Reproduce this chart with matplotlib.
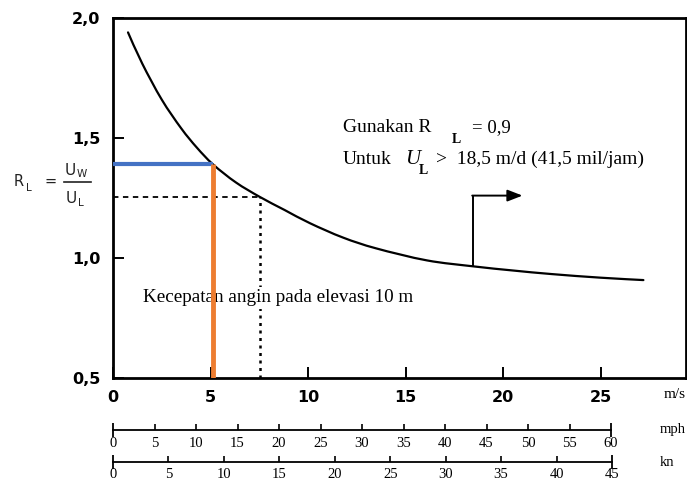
import matplotlib
matplotlib.use("Agg")
import matplotlib.pyplot as plt
from matplotlib.ticker import FixedLocator
from matplotlib.path import Path
from matplotlib.patches import PathPatch

# Wind-speed ratio curve R_L = U_W / U_L against wind speed over land (m/s)
wind_ms = [0.77, 1.5, 2.5, 3.5, 4.3, 5.13, 6.3, 7.54, 8.8, 10.1, 11.8, 13.5,
           16.1, 18.5, 20.5, 22.5, 25.0, 27.2]
ratio_rl = [1.94, 1.81, 1.66, 1.54, 1.46, 1.39, 1.315, 1.254, 1.20, 1.145,
            1.085, 1.04, 0.99, 0.965, 0.948, 0.933, 0.918, 0.908]

# Main axis ticks
x_ticks = [0, 5, 10, 15, 20, 25]
y_ticks = [0.5, 1.0, 1.5, 2.0]
y_tick_labels = ["0,5", "1,0", "1,5", "2,0"]

# Highlighted reading (blue/orange) and dashed reading
read_speed, read_ratio = 5.13, 1.39
dash_speed, dash_ratio = 7.54, 1.254

# Threshold note
limit_speed, limit_ratio_from, limit_ratio_to, arrow_end = 18.46, 0.97, 1.26, 21.0

# Secondary unit scales
mph_ticks = [0, 5, 10, 15, 20, 25, 30, 35, 40, 45, 50, 55, 60]
kn_ticks = [0, 5, 10, 15, 20, 25, 30, 35, 40, 45]

W, H = 687, 483
fig = plt.figure(figsize=(W / 100, H / 100), dpi=100)
fig.patch.set_facecolor("white")


def fx(px):
    return px / W


def fy(py):
    return 1 - py / H


ax = fig.add_axes([fx(113), fy(378), fx(686) - fx(113), fy(18) - fy(378)])
ax.set_xlim(0, (686 - 113) / 19.5)
ax.set_ylim(0.5, 2.0)
for s in ax.spines.values():
    s.set_linewidth(2.0)
    s.set_color("black")


def smooth_path(xs, ys):
    """Catmull-Rom curve through the points, as cubic Bezier segments."""
    pts = list(zip(xs, ys))
    verts = [pts[0]]
    codes = [Path.MOVETO]
    n = len(pts)
    for i in range(n - 1):
        p0 = pts[i - 1] if i > 0 else pts[i]
        p1, p2 = pts[i], pts[i + 1]
        p3 = pts[i + 2] if i + 2 < n else pts[i + 1]
        c1 = (p1[0] + (p2[0] - p0[0]) / 6, p1[1] + (p2[1] - p0[1]) / 6)
        c2 = (p2[0] - (p3[0] - p1[0]) / 6, p2[1] - (p3[1] - p1[1]) / 6)
        verts += [c1, c2, p2]
        codes += [Path.CURVE4] * 3
    return Path(verts, codes)


ax.add_patch(PathPatch(smooth_path(wind_ms, ratio_rl), facecolor="none",
                       edgecolor="black", lw=1.6, zorder=3, capstyle="round"))

# Dashed reading lines
ax.plot([0, dash_speed], [dash_ratio, dash_ratio], color="black", lw=1.3,
        ls=(0, (3, 2.5)), zorder=2)
ax.plot([dash_speed, dash_speed], [0.5, dash_ratio], color="black", lw=1.8,
        ls=(0, (1.2, 1.8)), zorder=2)

# Highlighted reading
ax.plot([0, read_speed], [read_ratio, read_ratio], color="#4472C4", lw=3,
        zorder=5, solid_capstyle="butt")
ax.plot([read_speed, read_speed], [0.5, read_ratio], color="#ED7D31", lw=3.5,
        zorder=6, solid_capstyle="butt")

# Threshold arrow
ax.plot([limit_speed, limit_speed], [limit_ratio_from, limit_ratio_to],
        color="black", lw=1.4, zorder=3)
ax.annotate("", xy=(arrow_end, limit_ratio_to), xytext=(limit_speed - 0.04, limit_ratio_to),
            arrowprops=dict(arrowstyle="-|>,head_length=0.9,head_width=0.35",
                            color="black", lw=1.4, shrinkA=0, shrinkB=0), zorder=3)

serif = "Liberation Serif"
tf = fig.transFigure
ax.text(fx(343), fy(132), "Gunakan R", fontsize=14, family=serif, va="baseline", transform=tf)
ax.text(fx(452), fy(143), "L", fontsize=10, family=serif, va="baseline", weight="bold", transform=tf)
ax.text(fx(472), fy(132), "= 0,9", fontsize=13.5, family=serif, va="baseline", transform=tf)
ax.text(fx(343), fy(164), "Untuk", fontsize=14, family=serif, va="baseline", transform=tf)
ax.text(fx(405), fy(164), "U", fontsize=15, family=serif, va="baseline", style="italic", transform=tf)
ax.text(fx(419), fy(174), "L", fontsize=10, family=serif, va="baseline", weight="bold", transform=tf)
ax.text(fx(436), fy(164), ">  18,5 m/d (41,5 mil/jam)", fontsize=14, family=serif,
        va="baseline", transform=tf)

ax.text(fx(143), fy(298), "Kecepatan angin pada elevasi 10 m", fontsize=13.8,
        family=serif, va="center", ha="left", zorder=4, transform=tf,
        bbox=dict(facecolor="white", edgecolor="none", pad=1.5))

# Ticks and labels on the main axes
ax.xaxis.set_major_locator(FixedLocator(x_ticks))
ax.yaxis.set_major_locator(FixedLocator(y_ticks))
ax.set_yticklabels(y_tick_labels)
ax.tick_params(axis="both", direction="in", length=8, width=1.4, colors="black",
               labelsize=11.5, pad=9)
for lab in ax.get_xticklabels() + ax.get_yticklabels():
    lab.set_fontweight("bold")
    lab.set_family("DejaVu Sans")

fig.text(fx(664), fy(394), "m/s", fontsize=11, family=serif, va="center")

# Ratio label on the left
sans = "DejaVu Sans"
ink = "#222222"
fig.text(fx(14), fy(186), "R", fontsize=10.5, family=sans, va="baseline", color=ink)
fig.text(fx(26), fy(191), "L", fontsize=7.5, family=sans, va="baseline", color=ink)
fig.text(fx(45), fy(186), "=", fontsize=10.5, family=sans, va="baseline", color=ink)
fig.text(fx(65), fy(175), "U", fontsize=11, family=sans, va="baseline", color=ink)
fig.text(fx(77), fy(177), "W", fontsize=7.5, family=sans, va="baseline", color=ink)
fig.text(fx(66), fy(203), "U", fontsize=11, family=sans, va="baseline", color=ink)
fig.text(fx(78), fy(206), "L", fontsize=7.5, family=sans, va="baseline", color=ink)
fig.add_artist(plt.Line2D([fx(64), fx(91)], [fy(182), fy(182)], color=ink, lw=1.2))


# Secondary unit scales below the chart
def unit_scale(y_px, right_px, ticks, name, pad):
    sax = fig.add_axes([fx(113), fy(y_px), fx(right_px) - fx(113), 0.0005])
    sax.set_xlim(ticks[0], ticks[-1])
    sax.set_ylim(0, 1)
    for k in ("top", "left", "right"):
        sax.spines[k].set_visible(False)
    sax.spines["bottom"].set_linewidth(1.3)
    sax.set_yticks([])
    sax.xaxis.set_major_locator(FixedLocator(ticks[1:-1]))
    sax.xaxis.set_minor_locator(FixedLocator([ticks[0], ticks[-1]]))
    sax.tick_params(axis="x", which="major", direction="in", length=4, width=1.2,
                    labelsize=10.5, pad=pad)
    sax.tick_params(axis="x", which="minor", direction="inout", length=10, width=1.3,
                    labelsize=10.5, pad=pad - 5)
    sax.set_xticklabels([str(t) for t in ticks[1:-1]], family=serif)
    sax.set_xticklabels([str(ticks[0]), str(ticks[-1])], minor=True, family=serif)
    sax.patch.set_visible(False)
    fig.text(fx(660), fy(y_px), name, fontsize=10.5, family=serif, va="center")


unit_scale(430, 611, mph_ticks, "mph", 5)
unit_scale(462, 612, kn_ticks, "kn", 4)

fig.savefig("out.png", dpi=100, facecolor="white")
